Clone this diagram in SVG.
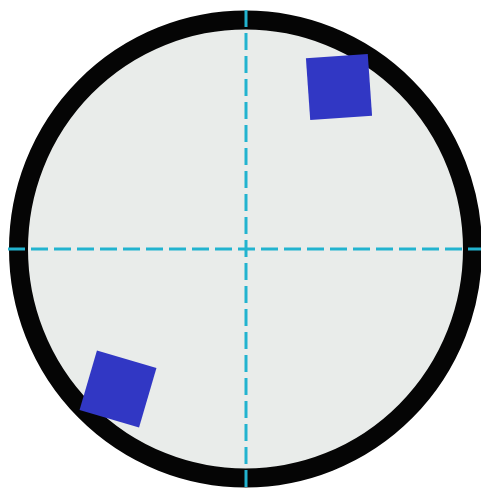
<svg xmlns="http://www.w3.org/2000/svg" width="481" height="490" viewBox="0 0 481 490">
<style>
.ring{fill:#e9ecea;stroke:#050505;stroke-width:19}
.axis{stroke:#22b3cf;stroke-width:3;stroke-dasharray:17 6;fill:none}
.sq{fill:#3137c4}
</style>
<rect width="481" height="490" fill="#ffffff"/>
<g id="plate"><ellipse class="ring" cx="245.5" cy="249" rx="227" ry="229"/></g>
<g id="square-top"><rect class="sq" x="-31" y="-31" width="62" height="62" transform="translate(339 87) rotate(-4)"/></g>
<g id="square-bottom"><rect class="sq" x="-31" y="-31" width="62" height="62" transform="translate(118 389) rotate(16.3)"/></g>
<g id="connectors">
<line class="axis" x1="8" y1="249" x2="481" y2="249"/>
<line class="axis" x1="246" y1="10" x2="246" y2="490"/>
</g>
</svg>
